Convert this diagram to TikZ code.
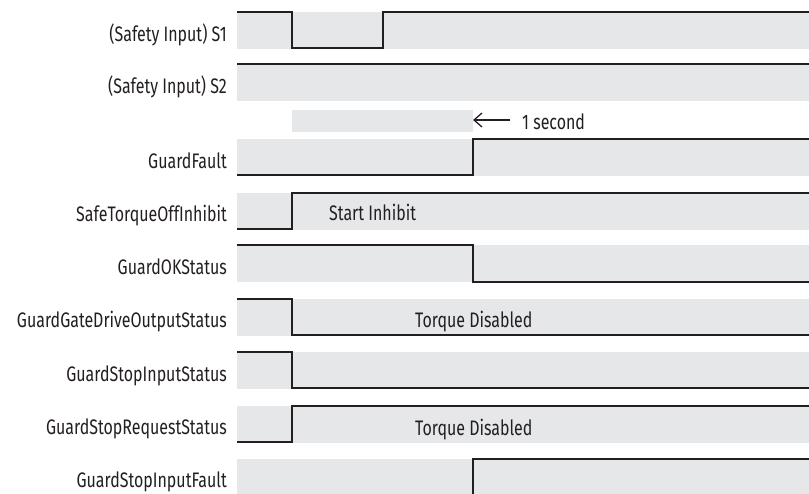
\documentclass[tikz,border=0pt]{standalone}
\usepackage{fontspec}
\setmainfont{Fira Sans}[FakeStretch=0.76]
\usepackage{xcolor}
\usetikzlibrary{arrows.meta}
\definecolor{TimBand}{HTML}{E6E7E8}
\definecolor{TimInk}{HTML}{231F20}

\begin{document}
\begin{tikzpicture}[x=1pt, y=-1pt, font=\fontsize{21}{24}\selectfont, >={Straight Barb[length=8pt,width=14pt]},
  band/.style={fill=TimBand},
  sig/.style={draw=TimInk, line width=1.4pt, line join=miter},
  lab/.style={anchor=base east, inner sep=0pt, text=TimInk},
  note/.style={anchor=base west, inner sep=0pt, text=TimInk},
  arr/.style={->, line width=1.3pt, TimInk}]
\useasboundingbox (0,0) rectangle (809,493);
\clip (0,0) rectangle (809,493);
% gray lanes
\foreach \t in {12,64,139,193,245,299,352,406,459}
  \fill[band] (237,\t) rectangle (809,\t+37);
\fill[band] (292,110) rectangle (473,132);
% signal traces
\draw[sig] (237,12) -- (292,12) -- (292,48) -- (383,48) -- (383,12) -- (809,12);
\draw[sig] (237,64) -- (809,64);
\draw[sig] (237,175) -- (473,175) -- (473,139) -- (809,139);
\draw[sig] (237,229) -- (292,229) -- (292,193) -- (809,193);
\draw[sig] (237,245) -- (473,245) -- (473,282) -- (809,282);
\draw[sig] (237,299) -- (292,299) -- (292,335) -- (809,335);
\draw[sig] (237,352) -- (292,352) -- (292,388) -- (809,388);
\draw[sig] (237,442) -- (292,442) -- (292,406) -- (809,406);
\draw[sig] (237,496) -- (473,496) -- (473,459) -- (809,459);
% signal names
\node[lab] (s1) at (227,41) {(Safety Input) S1};
\node[lab] (s2) at (227,93) {(Safety Input) S2};
\node[lab] (gfault) at (227,168) {GuardFault};
\node[lab] (stoinh) at (227,221) {SafeTorqueOffInhibit};
\node[lab] (gok) at (227,274) {GuardOKStatus};
\node[lab] (ggdos) at (227,327) {GuardGateDriveOutputStatus};
\node[lab] (gsis) at (227,381) {GuardStopInputStatus};
\node[lab] (gsrs) at (227,434) {GuardStopRequestStatus};
\node[lab] (gsif) at (227,487) {GuardStopInputFault};
% notes
\node[note] (sec) at (522,129) {1 second};
\coordinate (secend) at (473,120);
\draw[arr] (510,120) -- (secend);
\node[note] (inhibit) at (329,220) {Start Inhibit};
\node[note] (tdis1) at (415,327) {Torque Disabled};
\node[note] (tdis2) at (415,435) {Torque Disabled};
\end{tikzpicture}
\end{document}
